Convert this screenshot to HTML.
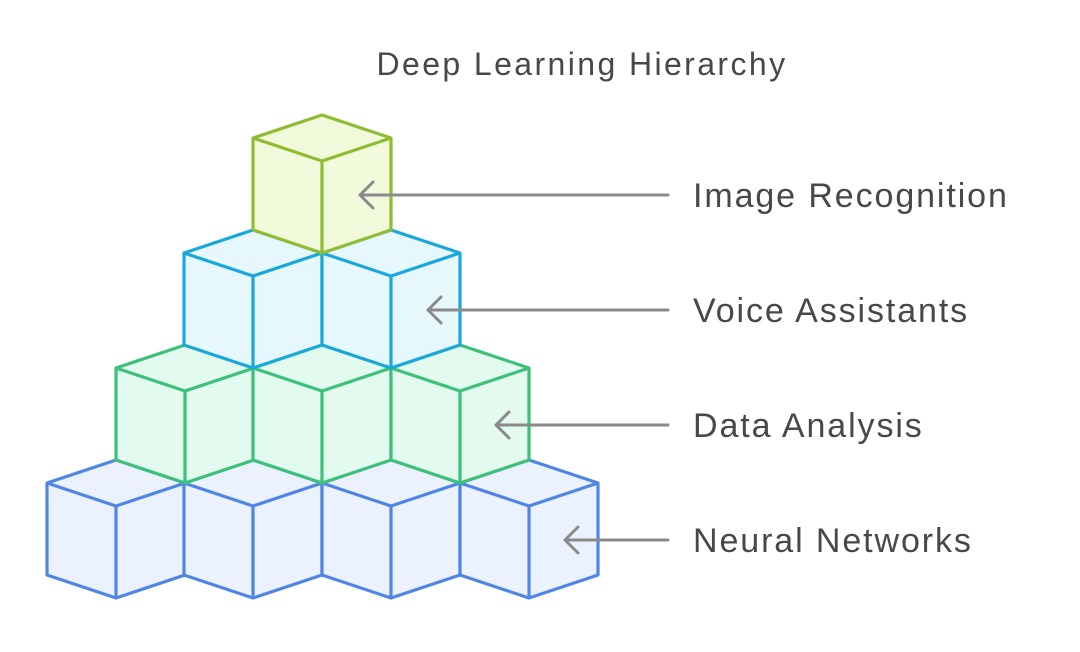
<!DOCTYPE html>
<html><head><meta charset="utf-8"><style>
html,body{margin:0;padding:0;background:#fff;}
svg{display:block;}
text{font-family:"Liberation Sans",sans-serif;fill:#484848;}
</style></head><body>
<svg width="1080" height="652" viewBox="0 0 1080 652" xmlns="http://www.w3.org/2000/svg">
<defs>
<g id="cube">
<path class="f" d="M0,0 L69,23 L69,115 L0,138 L-69,115 L-69,23 Z" stroke="none"/>
<path d="M0,0 L69,23 L69,115 L0,138 L-69,115 L-69,23 Z M-69,23 L0,46 L69,23 M0,46 L0,138" fill="none"/>
</g>
</defs>
<text x="582" y="75" font-size="32" text-anchor="middle" letter-spacing="2.4">Deep Learning Hierarchy</text>
<g stroke-width="3.2" stroke-linejoin="round">
<g stroke="#4f86e6" fill="#ebf2fe">
<use href="#cube" x="116" y="460"/><use href="#cube" x="253" y="460"/><use href="#cube" x="391" y="460"/><use href="#cube" x="529" y="460"/>
</g>
<g stroke="#3cc07a" fill="#e3faef">
<use href="#cube" x="185" y="345"/><use href="#cube" x="322" y="345"/><use href="#cube" x="460" y="345"/>
</g>
<g stroke="#1aa7dc" fill="#e6f7fd">
<use href="#cube" x="253" y="230"/><use href="#cube" x="391" y="230"/>
</g>
<g stroke="#8fbc32" fill="#f2fadc">
<use href="#cube" x="322" y="115"/>
</g>
</g>
<g stroke="#8a8a8a" stroke-width="3" fill="none" stroke-linecap="round" stroke-linejoin="round">
<path d="M668,195 L360,195 M373,182 L360,195 L373,208"/>
<path d="M668,310 L428,310 M441,297 L428,310 L441,323"/>
<path d="M668,425 L496,425 M509,412 L496,425 L509,438"/>
<path d="M668,540 L565,540 M578,527 L565,540 L578,553"/>
</g>
<g font-size="34" letter-spacing="1.9">
<text x="693" y="207">Image Recognition</text>
<text x="693" y="322">Voice Assistants</text>
<text x="693" y="437">Data Analysis</text>
<text x="693" y="552">Neural Networks</text>
</g>
</svg>
</body></html>
